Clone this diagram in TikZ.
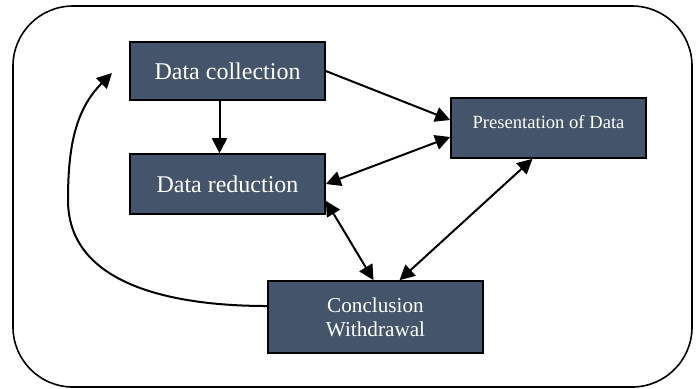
\documentclass[tikz,border=0pt]{standalone}
\usepackage{fontspec}
\setmainfont{Liberation Serif}
\usepackage{tikz}
\usetikzlibrary{arrows.meta,positioning}
\definecolor{slate}{HTML}{44546A}
\tikzset{
  stagebox/.style={
    rectangle, draw=black, fill=slate, line width=0.8pt,
    text=white, minimum width=97.5pt, minimum height=29pt,
    font=\fontsize{12}{14}\selectfont, align=center,
    inner sep=2pt
  },
  dataarrow/.style={
    -{Triangle[length=7.5pt,width=7.5pt]}, line width=1pt
  },
  bothway/.style={
    {Triangle[length=7.5pt,width=7.5pt]}-{Triangle[length=7.5pt,width=7.5pt]}, line width=1pt
  },
  framebox/.style={draw=black, line width=0.8pt, rounded corners=30pt},
}

\begin{document}
\begin{tikzpicture}[x=0.5pt, y=-0.5pt]
  \useasboundingbox (0,0) rectangle (699,388);
  \draw[framebox] (13,6) rectangle (692,387);
  \node[stagebox] (collect) at (227.5,71) {Data collection};
  \node[stagebox, minimum height=30pt] (reduce) at (227.5,184) {Data reduction};
  \node[stagebox, minimum height=30pt, font=\fontsize{9.3}{11}\selectfont,
        text depth=6pt] (present) at (548.5,128) {Presentation of Data};
  \node[stagebox, minimum width=107.5pt, minimum height=36pt,
        font=\fontsize{10.6}{12}\selectfont] (conclude) at (375.5,317) {Conclusion\\Withdrawal};
  \coordinate (looptip) at (112,73);
  \draw[dataarrow] ([xshift=-4pt]collect.south) -- ([xshift=-4pt]reduce.north);
  \draw[dataarrow] (collect.east) -- ([yshift=4pt]present.west);
  \draw[bothway] (reduce.east) -- ([yshift=-4.5pt]present.west);
  \draw[bothway] ([yshift=7pt]reduce.south east) -- ([xshift=-1pt]conclude.north);
  \draw[bothway] ([xshift=-8pt]present.south) -- ([xshift=12pt]conclude.north);
  \draw[dataarrow] ([yshift=5.5pt]conclude.west) .. controls (180,306) and (68,288) .. (68,200)
    .. controls (68,148) and (75,110) .. (looptip);
\end{tikzpicture}
\end{document}
